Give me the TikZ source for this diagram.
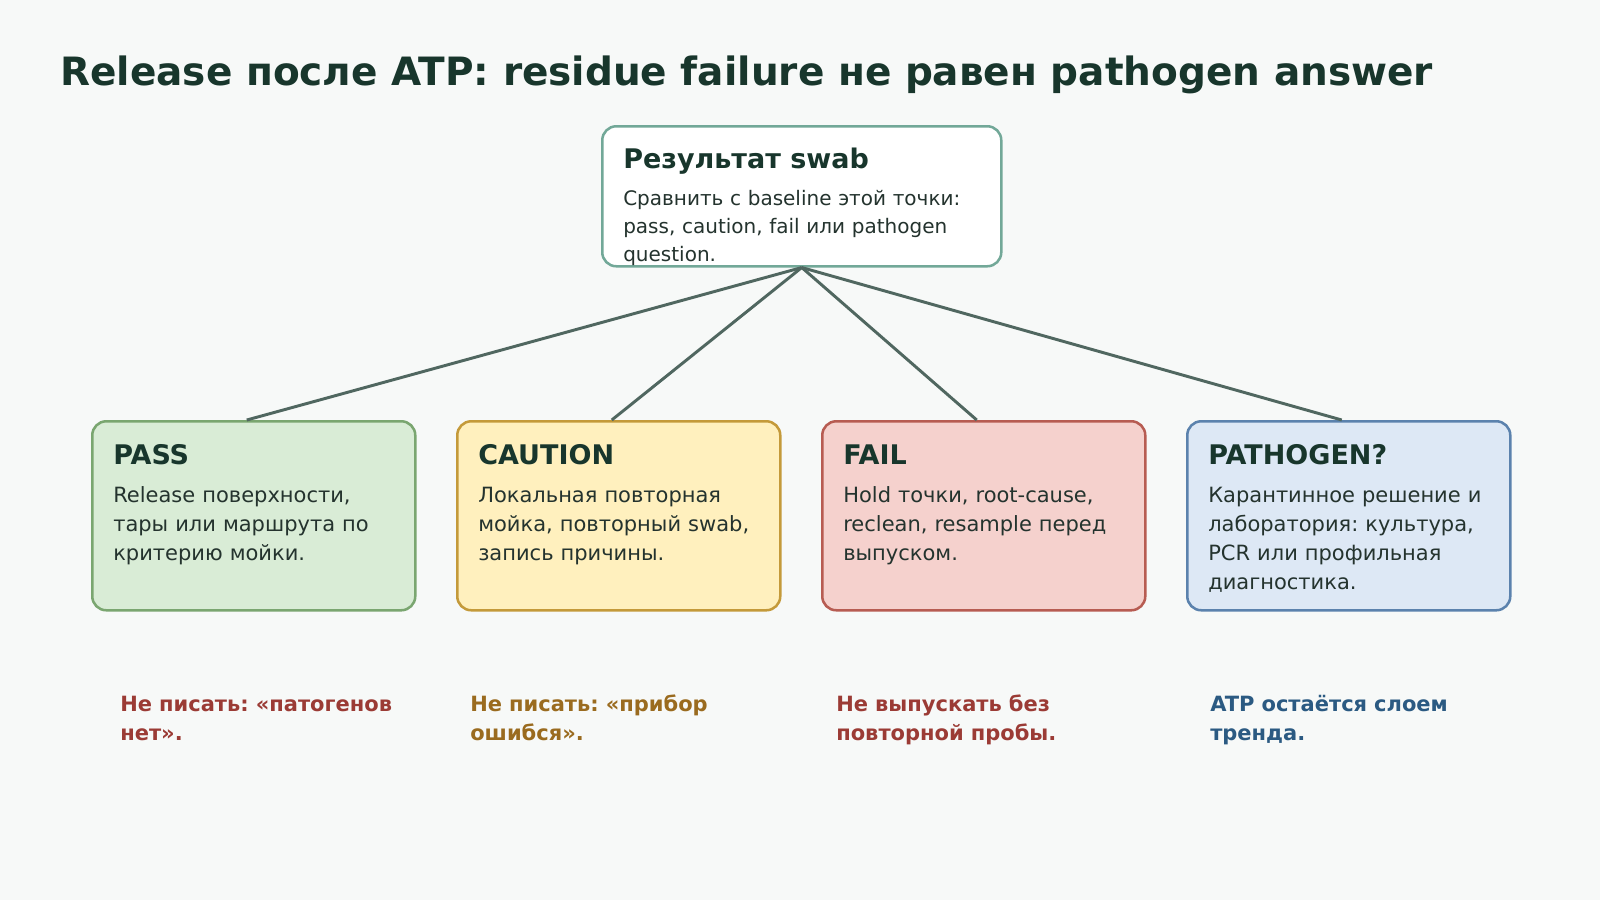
\documentclass[tikz,border=0pt]{standalone}
\usepackage{fontspec}
\setmainfont{DejaVu Sans}
\usepackage{tikz}
\usetikzlibrary{
  positioning,
  calc
}
\frenchspacing
\definecolor{bgcolor}{RGB}{247, 249, 248}
\definecolor{titlecolor}{RGB}{24, 54, 44}
\definecolor{textcolor}{RGB}{36, 51, 46}
\definecolor{linkcolor}{RGB}{80, 103, 96}
\definecolor{resultborder}{RGB}{114, 168, 152}
\definecolor{passfill}{RGB}{217, 236, 214}
\definecolor{passborder}{RGB}{122, 166, 112}
\definecolor{cautionfill}{RGB}{255, 240, 190}
\definecolor{cautionborder}{RGB}{196, 154, 58}
\definecolor{failfill}{RGB}{245, 209, 205}
\definecolor{failborder}{RGB}{183, 92, 82}
\definecolor{pathogenfill}{RGB}{221, 232, 245}
\definecolor{pathogenborder}{RGB}{91, 130, 173}
\definecolor{warnred}{RGB}{155, 59, 53}
\definecolor{warngold}{RGB}{154, 107, 31}
\definecolor{warnblue}{RGB}{43, 90, 130}
\tikzset{
block/.style={
  draw,
  line width=1.9pt,
  rounded corners=10.5pt,
  inner sep=0pt,
  anchor=north west,
  minimum width=242.25pt,
  minimum height=141.75pt
},
resultblock/.style={
  block,
  draw=resultborder,
  fill=white,
  minimum width=299.25pt,
  minimum height=105pt
},
passblock/.style={
  block,
  draw=passborder,
  fill=passfill
},
cautionblock/.style={
  block,
  draw=cautionborder,
  fill=cautionfill
},
failblock/.style={
  block,
  draw=failborder,
  fill=failfill
},
pathogenblock/.style={
  block,
  draw=pathogenborder,
  fill=pathogenfill
},
titlelabel/.style={
  font=\bfseries\fontsize{29.25}{35}\selectfont,
  text=titlecolor,
  anchor=base west,
  inner sep=0pt
},
headlabel/.style={
  font=\bfseries\fontsize{20.25}{24}\selectfont,
  text=titlecolor,
  anchor=base west,
  inner sep=0pt
},
bodytext/.style={
  font=\fontsize{15.75}{21.75}\selectfont,
  text=textcolor,
  text width=260pt,
  align=left,
  anchor=base west,
  inner sep=0pt
},
resulttext/.style={
  bodytext,
  font=\fontsize{15}{21}\selectfont
},
notelabel/.style={
  font=\bfseries\fontsize{15.75}{21.75}\selectfont,
  text width=220pt,
  align=left,
  anchor=base west,
  inner sep=0pt
},
link/.style={
  draw=linkcolor,
  line width=2.2pt
}
}

\begin{document}
\begin{tikzpicture}[x=0.75pt, y=-0.75pt]
        % page
        \fill[bgcolor] (0, 0) rectangle (1600, 900);
        \useasboundingbox (0, 0) rectangle (1600, 900);

        % title
        \node[titlelabel] (title) at (60, 85) {Release после ATP: residue failure не равен pathogen answer};

        % swab result
        \node[resultblock] (result) at (601, 125) {};
        \node[headlabel] (resulthead) at ($(result.north west)+(22, 43)$) {Результат swab};
        \node[resulttext] (resultbody) at ($(result.north west)+(22, 80)$) {Сравнить с baseline этой точки:\\pass, caution, fail или pathogen\\question.};

        % pass
        \node[passblock] (pass) at (91, 420) {};
        \node[headlabel] (passhead) at ($(pass.north west)+(22, 44)$) {PASS};
        \node[bodytext] (passbody) at ($(pass.north west)+(22, 82)$) {Release поверхности,\\тары или маршрута по\\критерию мойки.};

        % caution
        \node[cautionblock] (caution) at (456, 420) {};
        \node[headlabel] (cautionhead) at ($(caution.north west)+(22, 44)$) {CAUTION};
        \node[bodytext] (cautionbody) at ($(caution.north west)+(22, 82)$) {Локальная повторная\\мойка, повторный swab,\\запись причины.};

        % fail
        \node[failblock] (fail) at (821, 420) {};
        \node[headlabel] (failhead) at ($(fail.north west)+(22, 44)$) {FAIL};
        \node[bodytext] (failbody) at ($(fail.north west)+(22, 82)$) {Hold точки, root-cause,\\reclean, resample перед\\выпуском.};

        % pathogen
        \node[pathogenblock] (pathogen) at (1186, 420) {};
        \node[headlabel] (pathogenhead) at ($(pathogen.north west)+(22, 44)$) {PATHOGEN?};
        \node[bodytext] (pathogenbody) at ($(pathogen.north west)+(22, 82)$) {Карантинное решение и\\лаборатория: культура,\\PCR или профильная\\диагностика.};

        % links
        \foreach \b in {pass, caution, fail, pathogen}
          \draw[link] (result.south) -- ([xshift=-5.25pt]\b.north);

        % notes
        \node[notelabel, text=warnred] (passnote) at (120, 711) {Не писать: «патогенов\\нет».};
        \node[notelabel, text=warngold] (cautionnote) at (470, 711) {Не писать: «прибор\\ошибся».};
        \node[notelabel, text=warnred] (failnote) at (836, 711) {Не выпускать без\\повторной пробы.};
        \node[notelabel, text=warnblue] (pathogennote) at (1210, 711) {ATP остаётся слоем\\тренда.};
      \end{tikzpicture}
\end{document}
